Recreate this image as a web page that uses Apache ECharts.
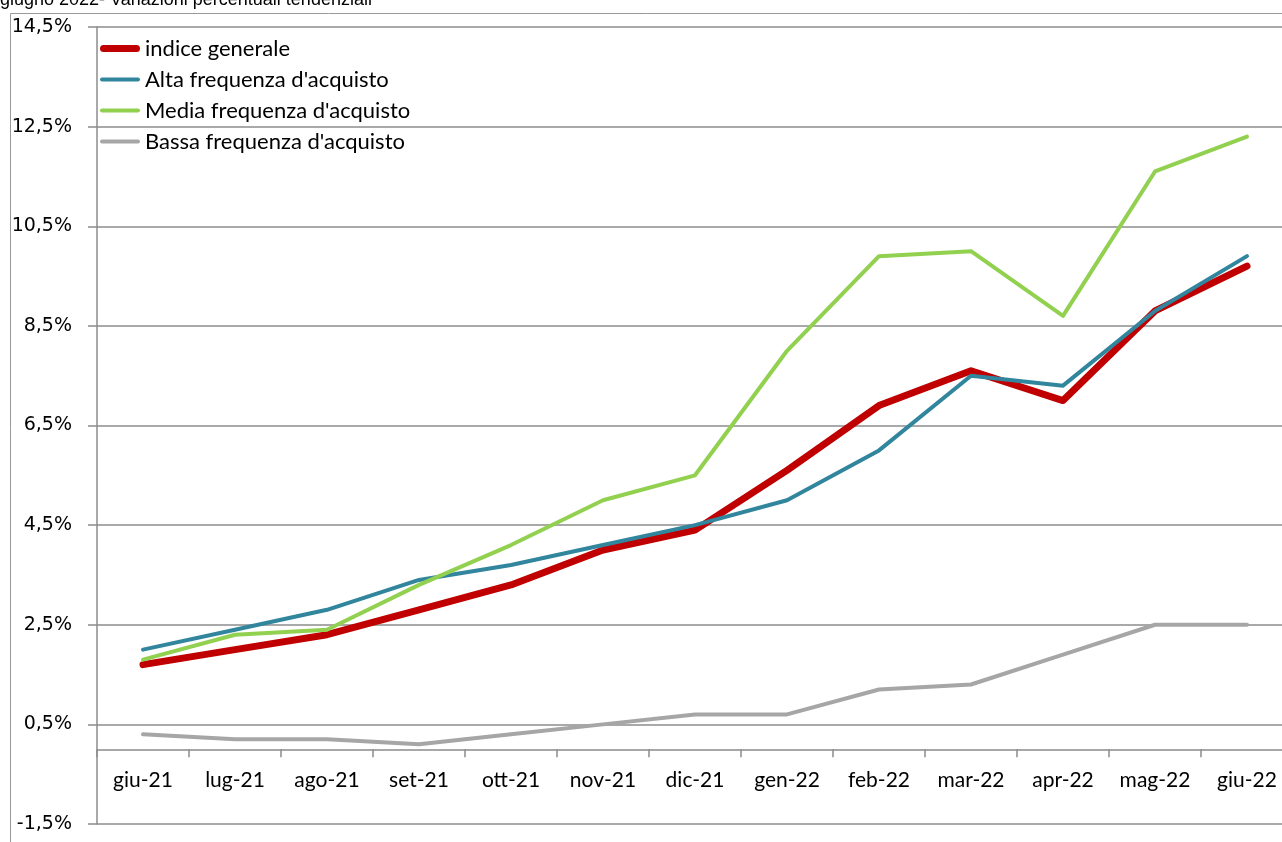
<!DOCTYPE html>
<html>
<head>
<meta charset="utf-8">
<script src="https://cdn.jsdelivr.net/npm/echarts@6/dist/echarts.min.js"></script>
<style>
html,body{margin:0;padding:0;background:#fff;}
#chart{width:1282px;height:842px;}
</style>
</head>
<body>
<div id="chart"></div>
<script>
var categories = ['giu-21','lug-21','ago-21','set-21','ott-21','nov-21','dic-21','gen-22','feb-22','mar-22','apr-22','mag-22','giu-22'];
var indiceGenerale = [1.7, 2.0, 2.3, 2.8, 3.3, 4.0, 4.4, 5.6, 6.9, 7.6, 7.0, 8.8, 9.7];
var altaFrequenza  = [2.0, 2.4, 2.8, 3.4, 3.7, 4.1, 4.5, 5.0, 6.0, 7.5, 7.3, 8.8, 9.9];
var mediaFrequenza = [1.8, 2.3, 2.4, 3.3, 4.1, 5.0, 5.5, 8.0, 9.9, 10.0, 8.7, 11.6, 12.3];
var bassaFrequenza = [0.3, 0.2, 0.2, 0.1, 0.3, 0.5, 0.7, 0.7, 1.2, 1.3, 1.9, 2.5, 2.5];
var yTicks = [-1.5, 0.5, 2.5, 4.5, 6.5, 8.5, 10.5, 12.5, 14.5];
var seriesNames = ['indice generale', "Alta frequenza d'acquisto", "Media frequenza d'acquisto", "Bassa frequenza d'acquisto"];
var titleText = 'giugno 2022- Variazioni percentuali tendenziali';

var colors = ['#C00000', '#31859C', '#92D050', '#A6A6A6'];
var widths = [7, 4, 4, 4];
var dataSets = [indiceGenerale, altaFrequenza, mediaFrequenza, bassaFrequenza];
var gridColor = '#8C8C8C';

var chart = echarts.init(document.getElementById('chart'), null, {renderer: 'canvas'});

function fmt(v) {
  return v.toFixed(1).replace('.', ',') + '%';
}

var series = seriesNames.map(function (name, i) {
  return {
    name: name,
    type: 'line',
    data: dataSets[i],
    showSymbol: false,
    symbol: 'none',
    color: colors[i],
    lineStyle: {color: colors[i], width: widths[i], cap: 'round', join: 'round'},
    emphasis: {disabled: true},
    animation: false,
    z: 2 + i
  };
});

var option = {
  animation: false,
  backgroundColor: '#fff',
  graphic: [
    {type: 'rect', shape: {x: 10.5, y: 13.5, width: 1400, height: 1000}, style: {fill: 'none', stroke: '#999', lineWidth: 1}, silent: true, z: -10},
    {type: 'text', left: 0, top: -9, style: {text: titleText, font: '18px "Liberation Sans", Arial, sans-serif', fill: '#000'}, silent: true}
  ],
  legend: {
    orient: 'vertical',
    left: 95,
    top: 30,
    itemWidth: 40,
    itemHeight: 7,
    itemGap: 4,
    selectedMode: false,
    textStyle: {fontSize: 22, fontFamily: 'Lato', color: '#000', lineHeight: 27},
    data: seriesNames.map(function (n, i) {
      return {name: n, icon: i === 0 ? 'path://M3.5,0H36.5A3.5,3.5,0,0,1,36.5,7H3.5A3.5,3.5,0,0,1,3.5,0Z' : 'path://M2,0H38A2,2,0,0,1,38,4H2A2,2,0,0,1,2,0Z'};
    })
  },
  grid: {left: 97, right: -11, top: 27, bottom: 18, containLabel: false, outerBoundsMode: 'none'},
  xAxis: {
    type: 'category',
    data: categories,
    boundaryGap: true,
    axisLine: {show: true, onZero: true, lineStyle: {color: gridColor, width: 1.5}},
    axisTick: {show: true, interval: 0, length: 8, inside: false, lineStyle: {color: gridColor, width: 1.5}},
    axisLabel: {interval: 0, hideOverlap: false, margin: -54, color: '#000', fontSize: 21, fontFamily: 'Lato'},
    splitLine: {show: false}
  },
  yAxis: {
    type: 'value',
    min: -1.5,
    max: 14.5,
    axisLine: {show: true, lineStyle: {color: gridColor, width: 1.5}},
    axisTick: {show: true, length: 9, inside: false, customValues: yTicks, lineStyle: {color: gridColor, width: 1.5}},
    axisLabel: {customValues: yTicks, margin: 25, color: '#000', fontSize: 19, fontFamily: 'DejaVu Sans', formatter: fmt},
    splitLine: {show: true, lineStyle: {color: gridColor, width: 1.5}}
  },
  series: series
};
chart.setOption(option);
</script>
</body>
</html>
